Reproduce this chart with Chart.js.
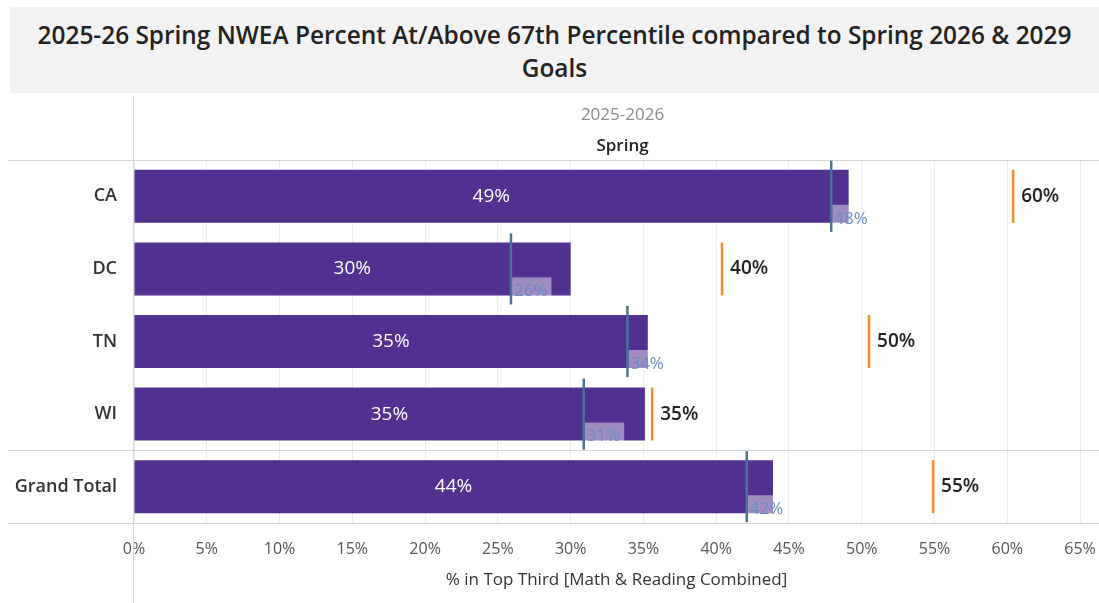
<!DOCTYPE html>
<html>
<head>
<meta charset="utf-8">
<script src="https://cdn.jsdelivr.net/npm/chart.js@4.4.1/dist/chart.umd.min.js"></script>
<style>
  body { margin: 0; background: #fff; width: 1099px; height: 603px; overflow: hidden; position: relative; font-family: 'Open Sans', sans-serif; }
  #title { position: absolute; left: 10px; top: 7px; width: 1089px; height: 86px; background: #f2f2f2; text-align: center;
           font-size: 24.4px; font-weight: 600; line-height: 33px; color: #222; padding-top: 11px; box-sizing: border-box; }
  #wrap { position: absolute; left: 0; top: 93px; width: 1099px; height: 510px; }
</style>
</head>
<body>
<div id="title">2025-26 Spring NWEA Percent At/Above 67th Percentile compared to Spring 2026 &amp; 2029<br>Goals</div>
<div id="wrap"><canvas id="chart"></canvas></div>
<script>
// rows
const states = ['CA', 'DC', 'TN', 'WI', 'Grand Total'];
// spring 2025-26 % at/above 67th percentile
const springPct = [49.1, 30.0, 35.3, 35.1, 43.9];
// spring 2026 goal (blue line)
const goal2026 = [47.9, 25.9, 33.9, 30.9, 42.1];
// 2029 goal (orange line) and its labels
const goal2029 = [60.4, 40.4, 50.5, 35.6, 54.9];
const goal2029Labels = ['60%', '40%', '50%', '35%', '55%'];
const xTicks = [0, 5, 10, 15, 20, 25, 30, 35, 40, 45, 50, 55, 60, 65];

const FONT = "'Open Sans', sans-serif";

const overlay = {
    id: 'overlay',
    beforeDatasetsDraw(chart) {
        const {ctx, chartArea, scales: {y}} = chart;
        ctx.save();
        ctx.strokeStyle = '#d6d6d6';
        ctx.lineWidth = 1;
        // row separators
        const mid = (y.getPixelForValue(3) + y.getPixelForValue(4)) / 2;
        [chartArea.top, mid, chartArea.bottom].forEach(py => {
            const yy = Math.round(py) + 0.5;
            ctx.beginPath();
            ctx.moveTo(8, yy);
            ctx.lineTo(chart.width, yy);
            ctx.stroke();
        });
        // left border of the pane
        const lx = Math.round(chartArea.left) - 0.5;
        ctx.beginPath();
        ctx.moveTo(lx, 4);
        ctx.lineTo(lx, chart.height);
        ctx.stroke();
        ctx.restore();
    },
    afterDatasetsDraw(chart) {
        const {ctx, chartArea, scales: {x, y}} = chart;
        const rowH = (chartArea.bottom - chartArea.top) / states.length;
        const barH = rowH * 0.73;
        ctx.save();
        ctx.textBaseline = 'middle';

        states.forEach((s, i) => {
            const cy = y.getPixelForValue(i);
            const barBottom = cy + barH / 2;

            // value label in the bar
            ctx.font = '19px ' + FONT;
            ctx.fillStyle = '#ffffff';
            ctx.textAlign = 'center';
            const x0 = x.getPixelForValue(0);
            const x1 = x.getPixelForValue(springPct[i]);
            ctx.fillText(Math.round(springPct[i]) + '%', (x0 + x1) / 2, cy);

            // 2026 goal: blue line + label
            const bx = x.getPixelForValue(goal2026[i]);
            const txt = Math.round(goal2026[i]) + '%';
            ctx.font = '17px ' + FONT;
            const w = ctx.measureText(txt).width;
            ctx.fillStyle = 'rgba(255,255,255,0.45)';
            ctx.fillRect(bx + 1, barBottom - 18, w + 6, 20);
            ctx.fillStyle = '#6c8bc6';
            ctx.textAlign = 'left';
            ctx.fillText(txt, bx + 3, barBottom - 4);
            ctx.strokeStyle = '#4d7196';
            ctx.lineWidth = 2.5;
            ctx.beginPath();
            ctx.moveTo(bx, cy - rowH * 0.49);
            ctx.lineTo(bx, cy + rowH * 0.49);
            ctx.stroke();

            // 2029 goal: orange line + label
            const ox = x.getPixelForValue(goal2029[i]);
            ctx.strokeStyle = '#f28e2b';
            ctx.beginPath();
            ctx.moveTo(ox, cy - barH / 2);
            ctx.lineTo(ox, cy + barH / 2);
            ctx.stroke();
            ctx.font = '600 19px ' + FONT;
            ctx.fillStyle = '#222';
            ctx.fillText(goal2029Labels[i], ox + 8, cy);
        });

        // column header
        const hx = (chartArea.left + chartArea.right) / 2 + 6;
        ctx.textAlign = 'center';
        ctx.font = '17px ' + FONT;
        ctx.fillStyle = '#8a8a8a';
        ctx.fillText('2025-2026', hx, 22);
        ctx.font = '600 17px ' + FONT;
        ctx.fillStyle = '#222';
        ctx.fillText('Spring', hx, 53);
        ctx.restore();
    }
};

new Chart(document.getElementById('chart').getContext('2d'), {
    type: 'bar',
    data: {
        labels: states,
        datasets: [{
            data: springPct,
            backgroundColor: '#51308f',
            borderWidth: 0,
            barPercentage: 0.73,
            categoryPercentage: 1
        }]
    },
    options: {
        indexAxis: 'y',
        responsive: true,
        maintainAspectRatio: false,
        animation: false,
        layout: { padding: { top: 67, right: 0, bottom: 0, left: 0 } },
        plugins: { legend: { display: false }, tooltip: { enabled: false } },
        scales: {
            x: {
                min: 0,
                max: 66.3,
                afterBuildTicks: scale => {
                    scale.ticks = xTicks.map(v => ({value: v}));
                },
                afterFit: scale => {
                    scale.height = 80;
                    scale.paddingRight = 0;
                },
                grid: { color: '#ececec', drawTicks: false },
                border: { display: false },
                ticks: {
                    callback: v => v + '%',
                    padding: 17,
                    color: '#555',
                    font: { family: FONT, size: 16 }
                },
                title: {
                    display: true,
                    text: '% in Top Third [Math & Reading Combined]',
                    color: '#333',
                    font: { family: FONT, size: 17 },
                    padding: { top: 0, bottom: 13 }
                }
            },
            y: {
                afterFit: scale => { scale.width = 134; },
                grid: { display: false },
                border: { display: false },
                ticks: {
                    padding: 9,
                    color: '#333',
                    font: { family: FONT, size: 18, weight: '600' }
                }
            }
        }
    },
    plugins: [overlay]
});
</script>
</body>
</html>
